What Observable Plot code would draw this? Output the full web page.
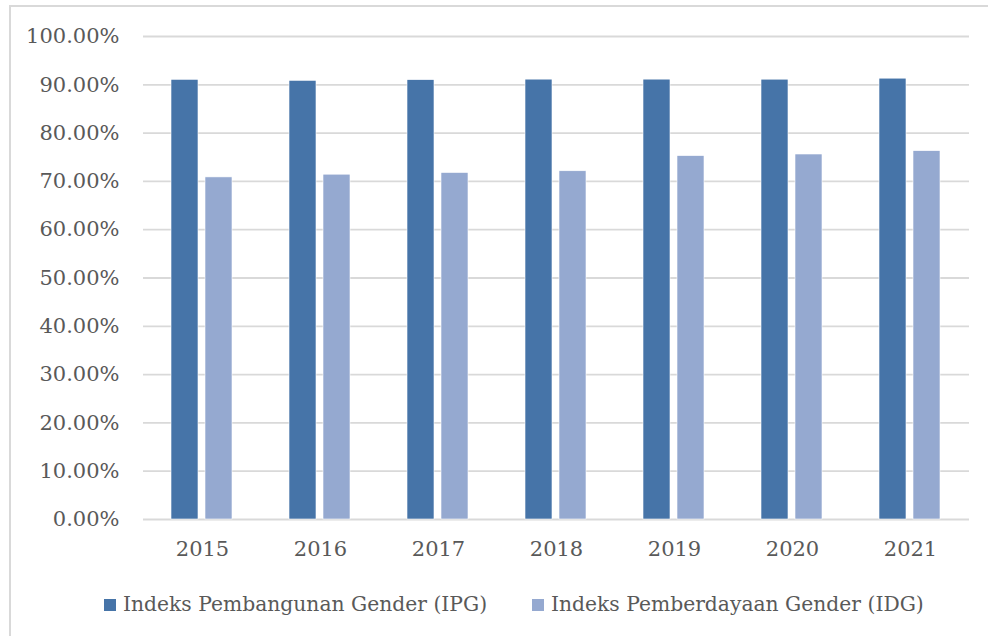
<!DOCTYPE html>
<html>
<head>
<meta charset="utf-8">
<script src="https://cdn.jsdelivr.net/npm/d3@7"></script>
<script src="https://cdn.jsdelivr.net/npm/@observablehq/plot@0.6"></script>
<style>
  html, body { margin: 0; padding: 0; background: #fff; }
  #wrap { position: relative; width: 988px; height: 636px; overflow: hidden; font-family: "DejaVu Serif", serif; color: #595959; }
  #frame { position: absolute; left: 9px; top: 5px; width: 990px; height: 640px; border-left: 2px solid #d9d9d9; border-top: 2px solid #d9d9d9; box-sizing: border-box; }
  #chart { position: absolute; left: 0; top: 0; }
  #legend { position: absolute; left: 0; top: 590px; width: 988px; font-size: 20.3px; line-height: 28px; }
  .item { position: absolute; top: 0; white-space: nowrap; }
  .sw { display: inline-block; width: 12px; height: 12px; margin-right: 7px; vertical-align: 0px; }
</style>
</head>
<body>
<div id="wrap">
  <div id="frame"></div>
  <div id="chart"></div>
  <div id="legend"></div>
</div>
<script>
const years = ["2015", "2016", "2017", "2018", "2019", "2020", "2021"];
const seriesNames = ["Indeks Pembangunan Gender (IPG)", "Indeks Pemberdayaan Gender (IDG)"];
const ipg = [0.9103, 0.9082, 0.9096, 0.9107, 0.9107, 0.9106, 0.9127];
const idg = [0.7083, 0.7139, 0.7174, 0.7210, 0.7524, 0.7557, 0.7626];
const yTicks = [0, 0.1, 0.2, 0.3, 0.4, 0.5, 0.6, 0.7, 0.8, 0.9, 1.0];
const colors = ["#4674a8", "#95a9d0"];

const table = [];
years.forEach((yr, i) => {
  table.push({year: yr, series: seriesNames[0], value: ipg[i]});
  table.push({year: yr, series: seriesNames[1], value: idg[i]});
});

const chart = Plot.plot({
  width: 988,
  height: 575,
  marginLeft: 142,
  marginRight: 18,
  marginTop: 36,
  marginBottom: 56,
  style: {fontFamily: "DejaVu Serif", fontSize: "21px", color: "#595959", background: "transparent"},
  fx: {domain: years, padding: 0, label: null, axis: "bottom", tickSize: 0, tickPadding: 22},
  x: {domain: seriesNames, axis: null, paddingInner: 0.2, paddingOuter: 0.83},
  y: {domain: [0, 1], ticks: yTicks, tickFormat: d3.format(".2%"), tickSize: 0, tickPadding: 24, label: null},
  color: {domain: seriesNames, range: colors},
  marks: [
    Plot.ruleY(yTicks, {stroke: "#d9d9d9", strokeWidth: 1.8}),
    Plot.barY(table, {fx: "year", x: "series", y: "value", fill: "series", stroke: "#ffffff", strokeWidth: 0.6})
  ]
});
document.getElementById("chart").appendChild(chart);

const legend = document.getElementById("legend");
const lx = [104, 532];
seriesNames.forEach((name, i) => {
  const d = document.createElement("div");
  d.className = "item";
  d.style.left = lx[i] + "px";
  const sw = document.createElement("span");
  sw.className = "sw";
  sw.style.background = colors[i];
  d.appendChild(sw);
  d.appendChild(document.createTextNode(name));
  legend.appendChild(d);
});
</script>
</body>
</html>
